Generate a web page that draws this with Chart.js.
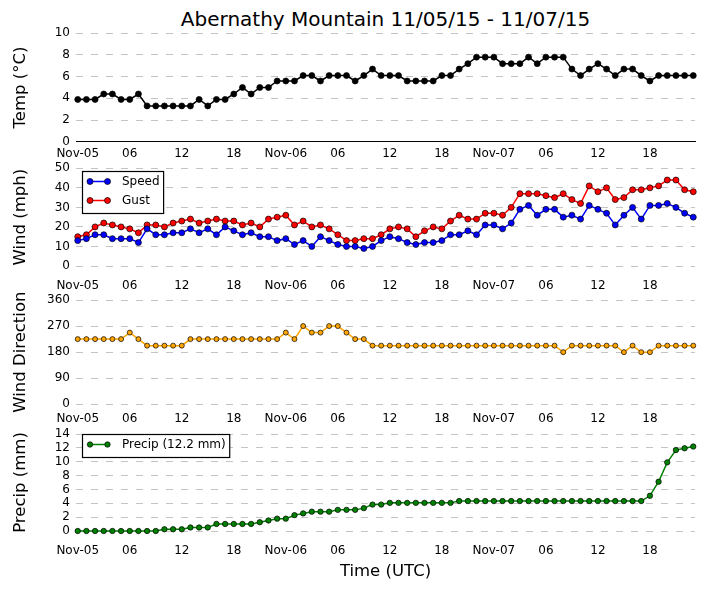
<!DOCTYPE html>
<html>
<head>
<meta charset="utf-8">
<title>Abernathy Mountain 11/05/15 - 11/07/15</title>
<script src="https://cdn.jsdelivr.net/npm/chart.js@4.4.1/dist/chart.umd.min.js"></script>
<style>
  html, body { margin: 0; padding: 0; background: #fff; }
  #wrap { position: relative; width: 705px; height: 593px; font-family: 'DejaVu Sans', sans-serif; }
  #wrap canvas { position: absolute; left: 0; top: 0; }
  #title { position: absolute; left: 76px; width: 619px; top: 7px; text-align: center;
           font-size: 20px; line-height: 24px; color: #000; }
</style>
</head>
<body>
<div id="wrap">
  <div id="title">Abernathy Mountain 11/05/15 - 11/07/15</div>
  <canvas id="tempChart" width="705" height="593"></canvas>
  <canvas id="windChart" width="705" height="593"></canvas>
  <canvas id="dirChart" width="705" height="593"></canvas>
  <canvas id="precipChart" width="705" height="593"></canvas>
</div>
<script>
// hourly observations, Nov-05 00:00 to Nov-07 23:00 UTC
const tickHours = [0, 6, 12, 18, 24, 30, 36, 42, 48, 54, 60, 66];
const tickLabels = ['Nov-05', '06', '12', '18', 'Nov-06', '06', '12', '18', 'Nov-07', '06', '12', '18'];

const temp = [3.9, 3.9, 3.9, 4.4, 4.4, 3.9, 3.9, 4.4, 3.3, 3.3,
              3.3, 3.3, 3.3, 3.3, 3.9, 3.3, 3.9, 3.9, 4.4, 5.0,
              4.4, 5.0, 5.0, 5.6, 5.6, 5.6, 6.1, 6.1, 5.6, 6.1,
              6.1, 6.1, 5.6, 6.1, 6.7, 6.1, 6.1, 6.1, 5.6, 5.6,
              5.6, 5.6, 6.1, 6.1, 6.7, 7.2, 7.8, 7.8, 7.8, 7.2,
              7.2, 7.2, 7.8, 7.2, 7.8, 7.8, 7.8, 6.7, 6.1, 6.7,
              7.2, 6.7, 6.1, 6.7, 6.7, 6.1, 5.6, 6.1, 6.1, 6.1,
              6.1, 6.1];

const speed = [13, 14, 16, 16, 14, 14, 14, 12, 19, 16,
               16, 17, 17, 19, 17, 19, 16, 20, 18, 16,
               17, 15, 15, 13, 14, 11, 13, 10, 15, 13,
               11, 10, 10, 9, 10, 13, 15, 14, 12, 11,
               12, 12, 13, 16, 16, 18, 16, 21, 21, 19,
               22, 29, 31, 26, 29, 29, 25, 26, 24, 31,
               29, 27, 21, 26, 30, 24, 31, 31, 32, 30,
               27, 25];

const gust = [15, 16, 20, 22, 21, 20, 19, 17, 21, 21,
              20, 22, 23, 24, 22, 23, 24, 23, 23, 21,
              22, 20, 24, 25, 26, 21, 23, 20, 21, 19,
              16, 13, 13, 14, 14, 16, 19, 20, 19, 15,
              18, 20, 19, 23, 26, 24, 24, 27, 27, 26,
              30, 37, 37, 37, 36, 35, 37, 34, 32, 41,
              38, 40, 34, 35, 39, 39, 40, 41, 44, 44,
              39, 38];

const direction = [225, 225, 225, 225, 225, 225, 247.5, 225, 202.5, 202.5,
                   202.5, 202.5, 202.5, 225, 225, 225, 225, 225, 225, 225,
                   225, 225, 225, 225, 247.5, 225, 270, 247.5, 247.5, 270,
                   270, 247.5, 225, 225, 202.5, 202.5, 202.5, 202.5, 202.5, 202.5,
                   202.5, 202.5, 202.5, 202.5, 202.5, 202.5, 202.5, 202.5, 202.5, 202.5,
                   202.5, 202.5, 202.5, 202.5, 202.5, 202.5, 180, 202.5, 202.5, 202.5,
                   202.5, 202.5, 202.5, 180, 202.5, 180, 180, 202.5, 202.5, 202.5,
                   202.5, 202.5];

const precip = [0, 0, 0, 0, 0, 0, 0, 0, 0, 0,
                0.25, 0.25, 0.25, 0.51, 0.51, 0.51, 1.02, 1.02, 1.02, 1.02,
                1.02, 1.27, 1.52, 1.78, 1.78, 2.29, 2.54, 2.79, 2.79, 2.79,
                3.05, 3.05, 3.05, 3.30, 3.81, 3.81, 4.06, 4.06, 4.06, 4.06,
                4.06, 4.06, 4.06, 4.06, 4.32, 4.32, 4.32, 4.32, 4.32, 4.32,
                4.32, 4.32, 4.32, 4.32, 4.32, 4.32, 4.32, 4.32, 4.32, 4.32,
                4.32, 4.32, 4.32, 4.32, 4.32, 4.32, 5.08, 7.11, 9.91, 11.68,
                11.94, 12.19];

const tempTicks = [0, 2, 4, 6, 8, 10];
const windTicks = [0, 10, 20, 30, 40, 50];
const dirTicks = [0, 90, 180, 270, 360];
const precipTicks = [0, 2, 4, 6, 8, 10, 12, 14];

Chart.defaults.font.family = "'DejaVu Sans', sans-serif";
Chart.defaults.color = '#000';

const PAGE_H = 593;

// framed legend drawn inside the plot, like the original
const boxLegend = {
    id: 'boxLegend',
    afterDatasetsDraw(chart, args, opts) {
        const ctx = chart.ctx;
        const sets = chart.data.datasets;
        ctx.save();
        ctx.font = "12px 'DejaVu Sans'";
        const textW = Math.max(...sets.map(d => ctx.measureText(d.label).width));
        const w = 39.5 + textW + 4;
        const h = sets.length * 19 + 4;
        ctx.fillStyle = '#fff';
        ctx.fillRect(opts.x, opts.y, w, h);
        ctx.lineWidth = 1.2;
        ctx.strokeStyle = '#000';
        ctx.strokeRect(opts.x, opts.y, w, h);
        sets.forEach((d, i) => {
            const cy = opts.y + 10 + i * 19;
            const x1 = opts.x + 7.5, x2 = opts.x + 25;
            ctx.strokeStyle = d.borderColor;
            ctx.lineWidth = d.borderWidth;
            ctx.beginPath();
            ctx.moveTo(x1, cy);
            ctx.lineTo(x2, cy);
            ctx.stroke();
            [x1, x2].forEach(px => {
                ctx.beginPath();
                ctx.arc(px, cy, d.pointRadius, 0, Math.PI * 2);
                ctx.fillStyle = d.pointBackgroundColor;
                ctx.fill();
                ctx.lineWidth = d.pointBorderWidth;
                ctx.strokeStyle = d.pointBorderColor;
                ctx.stroke();
            });
            ctx.fillStyle = '#000';
            ctx.textAlign = 'left';
            ctx.textBaseline = 'middle';
            ctx.fillText(d.label, opts.x + 39.5, cy);
        });
        ctx.restore();
    }
};

function series(label, values, color, radius) {
    return {
        label: label,
        data: values.map((v, i) => ({x: i, y: v})),
        borderColor: color,
        backgroundColor: color,
        pointBackgroundColor: color,
        pointBorderColor: '#000',
        pointBorderWidth: 0.7,
        pointRadius: radius,
        borderWidth: 1.5,
        tension: 0,
        clip: false
    };
}

function makeChart(id, p, datasets, yTicks, yTitle) {
    return new Chart(document.getElementById(id), {
        type: 'line',
        data: { datasets: datasets },
        plugins: p.legend ? [boxLegend] : [],
        options: {
            responsive: false,
            animation: false,
            events: [],
            layout: { padding: { top: p.top, right: 10, left: 0, bottom: 0 } },
            plugins: {
                legend: { display: false },
                tooltip: { enabled: false },
                boxLegend: p.legend || {}
            },
            scales: {
                x: {
                    type: 'linear',
                    min: -0.2,
                    max: 71.2,
                    afterBuildTicks: s => { s.ticks = tickHours.map(v => ({value: v})); },
                    afterFit: s => { s.height = PAGE_H - p.bottom; },
                    ticks: {
                        autoSkip: false,
                        maxRotation: 0,
                        padding: p.tickPad,
                        font: { size: 12 },
                        callback: v => tickLabels[tickHours.indexOf(v)]
                    },
                    grid: { display: false, drawTicks: false },
                    border: { display: !!p.zeroLine, color: '#000', width: 1 },
                    title: {
                        display: !!p.xTitle,
                        text: p.xTitle || '',
                        font: { size: 16.5 },
                        padding: { top: 0, bottom: 11 }
                    }
                },
                y: {
                    min: yTicks[0],
                    max: yTicks[yTicks.length - 1],
                    afterBuildTicks: s => { s.ticks = yTicks.map(v => ({value: v})); },
                    afterFit: s => { s.width = 76; },
                    ticks: { autoSkip: false, padding: 6, font: { size: 12 } },
                    grid: {
                        drawTicks: false,
                        lineWidth: 1,
                        color: c => (p.zeroLine && c.tick && c.tick.value === 0) ? 'rgba(0,0,0,0)' : '#c4c4c4'
                    },
                    border: { display: false, dash: [7, 8] },
                    title: {
                        display: true,
                        text: yTitle,
                        font: { size: 16.5 },
                        padding: { top: 11, bottom: 0 }
                    }
                }
            }
        }
    });
}

makeChart('tempChart', { top: 33.3, bottom: 141.7, tickPad: 5, zeroLine: true },
    [series('Temp', temp, '#000000', 3)], tempTicks, 'Temp (°C)');

makeChart('windChart', { top: 168.3, bottom: 266, tickPad: 12.3, legend: { x: 82.5, y: 171.5 } },
    [series('Speed', speed, '#0000ff', 3), series('Gust', gust, '#ff0000', 3)], windTicks, 'Wind (mph)');

makeChart('dirChart', { top: 300, bottom: 404.3, tickPad: 7 },
    [series('Direction', direction, '#ffa500', 2.5)], dirTicks, 'Wind Direction');

makeChart('precipChart', { top: 434, bottom: 531, tickPad: 12.3, xTitle: 'Time (UTC)', legend: { x: 82.5, y: 434.5 } },
    [series('Precip (' + precip[precip.length - 1].toFixed(1) + ' mm)', precip, '#008000', 2.7)], precipTicks, 'Precip (mm)');
</script>
</body>
</html>
